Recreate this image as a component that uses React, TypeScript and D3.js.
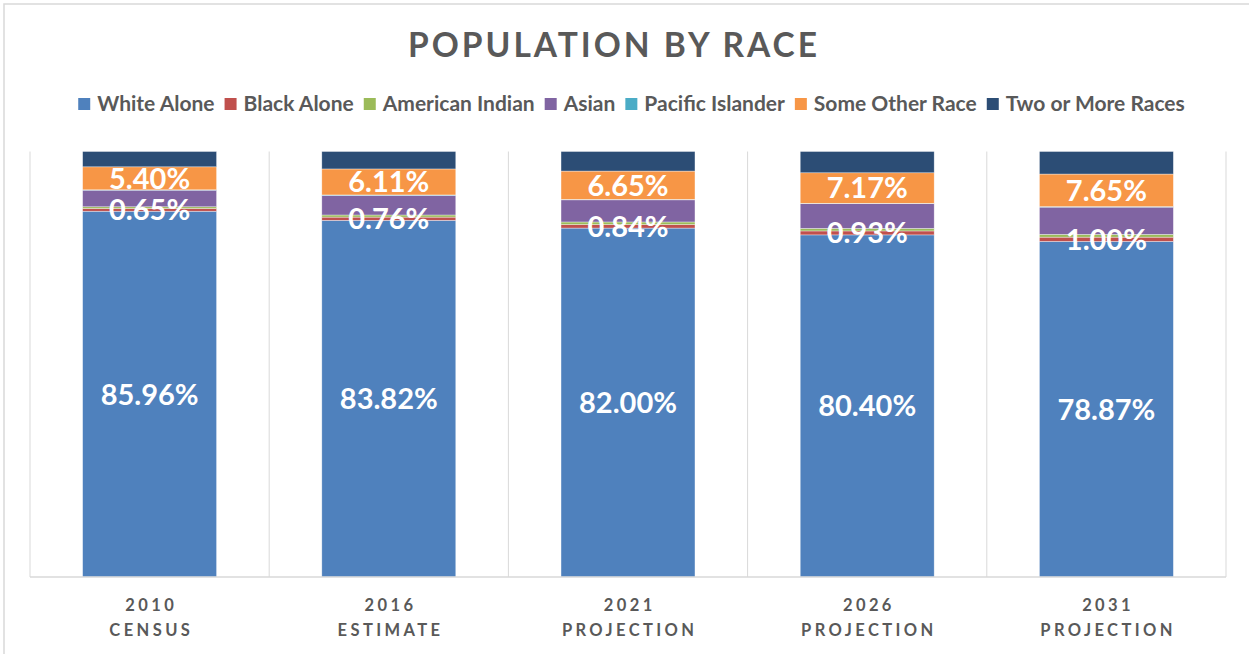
import React, { useEffect, useRef } from "react";
import * as d3 from "d3";

const categories = ["2010|CENSUS", "2016|ESTIMATE", "2021|PROJECTION", "2026|PROJECTION", "2031|PROJECTION"];
const seriesNames = ["White Alone", "Black Alone", "American Indian", "Asian", "Pacific Islander", "Some Other Race", "Two or More Races"];
const seriesColors = ["#4F81BD", "#C0504D", "#9BBB59", "#8064A2", "#4BACC6", "#F79646", "#2C4D75"];
const whiteAlone = [85.96, 83.82, 82.0, 80.4, 78.87];
const blackAlone = [0.65, 0.76, 0.84, 0.93, 1.0];
const americanIndian = [0.4, 0.5, 0.6, 0.6, 0.65];
const asian = [3.9, 4.6, 5.2, 5.8, 6.4];
const pacificIslander = [0.09, 0.11, 0.11, 0.1, 0.13];
const someOtherRace = [5.4, 6.11, 6.65, 7.17, 7.65];
const twoOrMore = [3.6, 4.1, 4.6, 5.0, 5.3];
const labeledSeries = [0, 1, 5];
const title = "POPULATION BY RACE";

const W = 1249;
const H = 654;
const GRAY = "#595959";
const FONT = "Lato, 'Open Sans', sans-serif";

export default function App() {
  const ref = useRef<SVGSVGElement>(null);
  useEffect(() => {
    const svg = d3.select(ref.current);
    svg.selectAll("*").remove();
    const values = [whiteAlone, blackAlone, americanIndian, asian, pacificIslander, someOtherRace, twoOrMore];
    const rows = categories.map((c, i) => {
      const r: any = { cat: c };
      seriesNames.forEach((s, j) => (r[s] = values[j][i]));
      return r;
    });
    const stack = d3.stack<any>().keys(seriesNames)(rows);

    const left = 30, right = 1226, top = 151.5, bottom = 577;
    const x = d3.scaleBand().domain(categories).range([left, right]).paddingInner(0.44).paddingOuter(0.22);
    const y = d3.scaleLinear().domain([0, 100]).range([bottom, top]);

    svg.append("rect").attr("x", 4).attr("y", 4).attr("width", W + 20).attr("height", H + 20)
      .attr("fill", "#fff").attr("stroke", "#d9d9d9").attr("stroke-width", 1.5);

    // category gridlines
    const step = x.step();
    const bounds = d3.range(categories.length + 1).map((i) => left + i * step);
    svg.append("g").selectAll("line").data(bounds).join("line")
      .attr("x1", (d) => d).attr("x2", (d) => d).attr("y1", top).attr("y2", bottom)
      .attr("stroke", "#d9d9d9").attr("stroke-width", 1);

    // title
    svg.append("text").attr("x", 614).attr("y", 57).attr("text-anchor", "middle")
      .attr("font-family", FONT).attr("font-weight", 700).attr("font-size", 33.5)
      .attr("letter-spacing", 3).attr("fill", GRAY).text(title);

    // legend
    const lg = svg.append("g");
    let cx = 0;
    const gapItem = 10;
    seriesNames.forEach((s, i) => {
      const g = lg.append("g");
      g.append("rect").attr("x", 0).attr("y", -6).attr("width", 12).attr("height", 12).attr("fill", seriesColors[i]);
      const t = g.append("text").attr("x", 19).attr("y", 0).attr("dy", "0.35em")
        .attr("font-family", FONT).attr("font-weight", 700).attr("font-size", 21).attr("fill", GRAY).text(s);
      const tw = (t.node() as SVGTextElement).getComputedTextLength();
      g.attr("transform", `translate(${cx},0)`);
      cx += 19 + tw + gapItem;
    });
    const totalW = cx - gapItem;
    lg.attr("transform", `translate(${631.5 - totalW / 2},104)`);

    // bars
    stack.forEach((layer, si) => {
      svg.append("g").selectAll("rect").data(layer).join("rect")
        .attr("x", (d: any) => x(d.data.cat)!)
        .attr("width", x.bandwidth())
        .attr("y", (d) => y(d[1]))
        .attr("height", (d) => y(d[0]) - y(d[1]))
        .attr("fill", seriesColors[si])
        .attr("stroke", "#ffffff").attr("stroke-opacity", 0.6).attr("stroke-width", 0.6);
    });

    // baseline
    svg.append("line").attr("x1", left).attr("x2", right).attr("y1", bottom).attr("y2", bottom)
      .attr("stroke", "#d9d9d9").attr("stroke-width", 1.5);

    // data labels
    labeledSeries.forEach((si) => {
      svg.append("g").selectAll("text").data(stack[si]).join("text")
        .attr("x", (d: any) => x(d.data.cat)! + x.bandwidth() / 2)
        .attr("y", (d) => (y(d[0]) + y(d[1])) / 2)
        .attr("dy", "0.36em").attr("text-anchor", "middle")
        .attr("font-family", FONT).attr("font-weight", 700).attr("font-size", 29).attr("fill", "#ffffff")
        .text((d: any) => d.data[seriesNames[si]].toFixed(2) + "%");
    });

    // axis labels
    categories.forEach((c) => {
      const [a, b] = c.split("|");
      const cxp = x(c)! + x.bandwidth() / 2;
      [a, b].forEach((line, k) => {
        svg.append("text").attr("x", cxp + 1.7).attr("y", 605 + k * 25).attr("dy", "0.35em")
          .attr("text-anchor", "middle").attr("font-family", FONT).attr("font-weight", 700)
          .attr("font-size", 16.5).attr("letter-spacing", 3.4).attr("fill", GRAY).text(line);
      });
    });
  }, []);

  return (
    <svg ref={ref} width={W} height={H} style={{ position: "absolute", left: 0, top: 0, display: "block" }} />
  );
}
